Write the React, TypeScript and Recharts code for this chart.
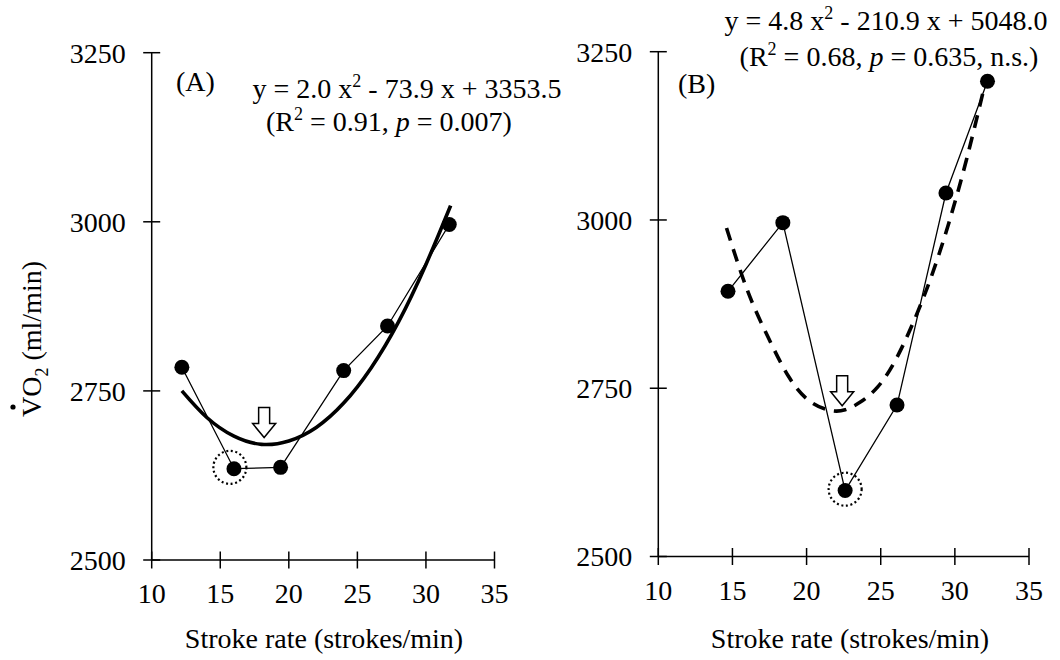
import React from "react";
import { ComposedChart, Line, XAxis, YAxis, ReferenceDot } from "recharts";

const xTicks = [10, 15, 20, 25, 30, 35];
const yTicks = [2500, 2750, 3000, 3250];

// panel A
const rateA = [12.2, 16.0, 19.4, 24.0, 27.2, 31.7];
const vo2A = [2785, 2635, 2637, 2780, 2846, 2996];
const fitRateA = [12.2, 14, 16, 18, 20, 22, 24, 26, 28, 30, 31.8];
const fitVo2A = [2750, 2711, 2683, 2671, 2676, 2696, 2732, 2784, 2852, 2937, 3024];
const arrowA = { x: 18.2, y: 2681 };
const circleA = { x: 15.7, y: 2637 };

// panel B
const rateB = [14.7, 18.4, 22.6, 26.1, 29.4, 32.2];
const vo2B = [2894, 2996, 2598, 2725, 3040, 3206];
const fitRateB = [14.6, 16, 17.4, 18.8, 20.2, 21.6, 22.6, 23.6, 24.8, 26, 27.2, 28.4, 29.6, 30.8, 32.0];
const fitVo2B = [2988, 2896, 2826, 2767, 2731, 2717, 2718, 2729, 2752, 2792, 2848, 2915, 2996, 3091, 3199];
const arrowB = { x: 22.4, y: 2724 };
const circleB = { x: 22.6, y: 2600 };

const zip = (xs: number[], ys: number[]) => xs.map((x, i) => ({ x, y: ys[i] }));

const FONT = "'Liberation Serif', 'Times New Roman', serif";
const FS = 28;

const XTick = (props: any) => {
  const { x, y, payload } = props;
  return (
    <g>
      <line x1={x} x2={x} y1={y - 8.5} y2={y + 8.5} stroke="#000" strokeWidth={1.5} />
      <text x={x} y={y + 43} textAnchor="middle" fontSize={FS} fontFamily={FONT} fill="#000">
        {payload.value}
      </text>
    </g>
  );
};

const YTick = (props: any) => {
  const { x, y, payload } = props;
  return (
    <g>
      <line x1={x - 8.5} x2={x + 8.5} y1={y} y2={y} stroke="#000" strokeWidth={1.5} />
      <text x={x - 26} y={y} dy="0.35em" textAnchor="end" fontSize={FS} fontFamily={FONT} fill="#000">
        {payload.value}
      </text>
    </g>
  );
};

const Arrow = (props: any) => {
  const { cx, cy } = props;
  const pts = [
    [cx - 5.5, cy - 30],
    [cx + 5.5, cy - 30],
    [cx + 5.5, cy - 14],
    [cx + 11.5, cy - 14],
    [cx, cy],
    [cx - 11.5, cy - 14],
    [cx - 5.5, cy - 14],
  ]
    .map((p) => p.join(","))
    .join(" ");
  return <polygon points={pts} fill="#fff" stroke="#000" strokeWidth={1.5} />;
};

const DottedRing = (props: any) => {
  const { cx, cy } = props;
  return <circle cx={cx} cy={cy} r={16.5} fill="none" stroke="#000" strokeWidth={2.2} strokeDasharray="2 2.6" />;
};

function Panel({ points, fit, dashed, arrow, circle, width, margin, yAxisWidth, xAxisHeight }: any) {
  return (
    <ComposedChart width={width} height={660} margin={margin}>
      <XAxis
        type="number"
        dataKey="x"
        domain={[10, 35]}
        ticks={xTicks}
        interval={0}
        allowDataOverflow
        height={xAxisHeight}
        axisLine={{ stroke: "#000", strokeWidth: 1.5 }}
        tickLine={false}
        tickSize={0}
        tickMargin={0}
        tick={XTick}
      />
      <YAxis
        type="number"
        domain={[2500, 3250]}
        ticks={yTicks}
        interval={0}
        allowDataOverflow
        width={yAxisWidth}
        axisLine={{ stroke: "#000", strokeWidth: 1.5 }}
        tickLine={false}
        tickSize={0}
        tickMargin={0}
        tick={YTick}
      />
      <Line
        data={fit}
        dataKey="y"
        type="natural"
        stroke="#000"
        strokeWidth={3.6}
        strokeDasharray={dashed ? "13 9" : undefined}
        dot={false}
        isAnimationActive={false}
      />
      <Line
        data={points}
        dataKey="y"
        type="linear"
        stroke="#000"
        strokeWidth={1.3}
        dot={{ r: 7.5, fill: "#000", stroke: "none" }}
        isAnimationActive={false}
      />
      <ReferenceDot x={circle.x} y={circle.y} shape={DottedRing} />
      <ReferenceDot x={arrow.x} y={arrow.y} shape={Arrow} />
    </ComposedChart>
  );
}

const Sup = ({ children }: any) => (
  <>
    <tspan fontSize={18} dy={-11}>{children}</tspan>
    <tspan dy={11}> </tspan>
  </>
);

export default function App() {
  return (
    <div
      style={{
        position: "absolute",
        left: 0,
        top: 0,
        width: 1060,
        height: 660,
        background: "#fff",
        fontFamily: FONT,
      }}
    >
      <div style={{ position: "absolute", left: 0, top: 0 }}>
        <Panel
          points={zip(rateA, vo2A)}
          fit={zip(fitRateA, fitVo2A)}
          dashed={false}
          arrow={arrowA}
          circle={circleA}
          width={540}
          margin={{ top: 52.7, right: 45.5, bottom: 0, left: 0 }}
          yAxisWidth={151.7}
          xAxisHeight={100}
        />
      </div>
      <div style={{ position: "absolute", left: 540, top: 0 }}>
        <Panel
          points={zip(rateB, vo2B)}
          fit={zip(fitRateB, fitVo2B)}
          dashed={true}
          arrow={arrowB}
          circle={circleB}
          width={520}
          margin={{ top: 51.7, right: 31, bottom: 0, left: 0 }}
          yAxisWidth={118.3}
          xAxisHeight={103.5}
        />
      </div>
      <svg
        width={1060}
        height={660}
        style={{ position: "absolute", left: 0, top: 0, pointerEvents: "none" }}
        fontFamily={FONT}
        fontSize={FS}
        fill="#000"
      >
        <text x={176} y={91}>(A)</text>
        <text x={407} y={98} textAnchor="middle" xmlSpace="preserve">
          y = 2.0 x<Sup>2</Sup>- 73.9 x + 3353.5
        </text>
        <text x={389} y={131} textAnchor="middle">
          (R<Sup>2</Sup>= 0.91, <tspan fontStyle="italic">p</tspan> = 0.007)
        </text>

        <text x={678} y={93}>(B)</text>
        <text x={886} y={30} textAnchor="middle">
          y = 4.8 x<Sup>2</Sup>- 210.9 x + 5048.0
        </text>
        <text x={889} y={66} textAnchor="middle">
          (R<Sup>2</Sup>= 0.68, <tspan fontStyle="italic">p</tspan> = 0.635, n.s.)
        </text>

        <text x={324} y={648} textAnchor="middle">Stroke rate (strokes/min)</text>
        <text x={850} y={648} textAnchor="middle">Stroke rate (strokes/min)</text>

        <g transform="rotate(-90)">
          <text x={-417} y={41}>
            VO<tspan fontSize={18} dy={7}>2</tspan>
            <tspan dy={-7}> (ml/min)</tspan>
          </text>
        </g>
        <circle cx={13} cy={407} r={2.6} fill="#000" />
      </svg>
    </div>
  );
}
